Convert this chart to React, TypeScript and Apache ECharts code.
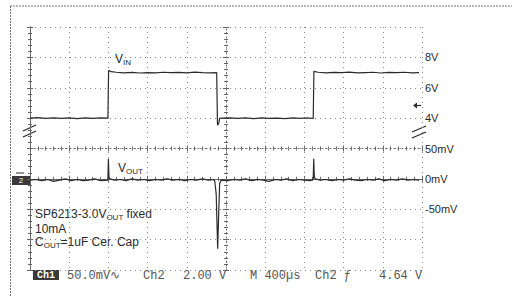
import React, { useEffect, useRef } from "react";
import * as echarts from "echarts";

// time in µs, VIN in volts
const vinData: [number, number][] = [
  [0, 4.0], [80, 4.03], [160, 3.98], [240, 4.02], [320, 3.99], [400, 4.01], [480, 3.97], [560, 4.02],
  [640, 3.99], [720, 4.01], [795, 4.0],
  [802, 7.14], [830, 7.06], [880, 7.02], [960, 6.98], [1040, 7.01], [1120, 6.97], [1200, 7.0], [1280, 6.98],
  [1360, 7.02], [1440, 6.99], [1520, 7.01], [1600, 6.98], [1680, 7.03], [1760, 7.0], [1840, 6.98], [1905, 7.0],
  [1913, 3.55], [1925, 3.62], [1935, 3.98], [1960, 4.0], [2040, 4.02], [2120, 3.98], [2200, 4.01], [2280, 3.97],
  [2360, 4.02], [2440, 3.99], [2520, 4.0], [2600, 3.97], [2680, 4.02], [2760, 3.99], [2840, 4.01], [2890, 3.98],
  [2897, 7.08], [2940, 7.02], [3020, 6.98], [3100, 7.01], [3180, 6.99], [3260, 7.03], [3340, 6.98], [3420, 7.0],
  [3500, 7.02], [3580, 6.97], [3660, 7.01], [3740, 6.99], [3820, 7.02], [3900, 6.98], [3970, 7.0],
];

// time in µs, VOUT in mV
const voutData: [number, number][] = [
  [0, -2], [60, -1], [120, -3], [180, -1], [240, -4], [300, -2], [360, 0], [420, -3], [480, -1], [540, -3],
  [600, -2], [660, 0], [720, -3], [795, -2],
  [800, 33], [806, 3], [815, 0], [860, -2], [920, -1], [980, -3], [1040, 0], [1100, -2], [1160, -1], [1220, -3],
  [1280, -1], [1340, -2], [1400, 0], [1460, -2], [1520, -1], [1580, -3], [1640, -1], [1700, -2], [1760, 0],
  [1820, -2], [1870, -1],
  [1885, -3], [1900, -25], [1915, -115], [1925, -60], [1935, -8], [1950, -2], [2020, -3], [2080, -1], [2140, -2],
  [2200, 0], [2260, -3], [2320, -1], [2380, -2], [2440, -4], [2500, -1], [2560, -2], [2620, 0], [2680, -3],
  [2740, -1], [2800, -2], [2860, -3], [2890, -1],
  [2895, 33], [2901, 4], [2910, 0], [2960, -2], [3020, -1], [3080, -3], [3140, -1], [3200, -2], [3260, 0],
  [3320, -2], [3380, -3], [3440, -1], [3500, -2], [3560, 0], [3620, -3], [3680, -1], [3740, -2], [3800, 0],
  [3860, -2], [3920, -1], [3970, -2],
];

const vinTickLabels = [4, 6, 8];
const voutTickLabels = [-50, 0, 50];
const statusTexts = ["50.0mV∿", "Ch2", "2.00 V", "M 400µs", "Ch2 ƒ", "4.64 V"];
const noteLines = ["SP6213-3.0V", "OUT", " fixed", "10mA", "C", "OUT", "=1uF Cer. Cap"];

const SANS = "'Liberation Sans', Arial, sans-serif";
const MONO = "'Liberation Mono', 'DejaVu Sans Mono', monospace";
const INK = "#2a2a2a";
const FRAME = "#666";

export default function App() {
  const ref = useRef<HTMLDivElement>(null);
  useEffect(() => {
    const chart = echarts.init(ref.current!, null, { renderer: "svg" });
    const gridDot = { show: true, lineStyle: { color: "#8a8a8a", width: 1, type: [1, 4] as any } };
    const border = { show: true, lineStyle: { color: FRAME, width: 1 } };
    const tickIn = { show: true, inside: true, length: 3, lineStyle: { color: FRAME } };
    const tickOut = { show: true, inside: false, length: 3, lineStyle: { color: FRAME } };
    const minor = { show: true, splitNumber: 5, length: 2, lineStyle: { color: FRAME } };
    const noLabel = { show: false };
    const xBase = { type: "value", min: 0, max: 4000, interval: 400, axisLabel: noLabel, splitLine: { show: false } };
    const yBase = { type: "value", min: -6, max: 10, interval: 2, axisLabel: noLabel, splitLine: { show: false } };

    const sub = (size: number) => ({ fontSize: size, fontFamily: SANS, fill: INK, lineHeight: 10, padding: [6, 0, 0, 0] });
    const main = (size: number) => ({ fontSize: size, fontFamily: SANS, fill: INK, lineHeight: 14 });
    const richText = (x: number, y: number, text: string) => ({
      type: "text", x, y,
      style: { text, rich: { a: main(12), b: sub(8) }, verticalAlign: "middle", align: "left" },
    });

    const statusX = [67, 143, 183, 250, 315, 379];

    chart.setOption({
      animation: false,
      grid: { left: 30, top: 27, width: 392, height: 243 },
      xAxis: [
        { ...xBase, position: "bottom", axisLine: border, axisTick: tickIn, minorTick: minor, splitLine: gridDot },
        { ...xBase, position: "top", axisLine: border, axisTick: tickIn, minorTick: minor },
        { ...xBase, position: "bottom", offset: -121.5, axisLine: { show: true, lineStyle: { color: FRAME, type: [1, 3] } }, axisTick: tickIn, minorTick: minor },
        { ...xBase, position: "bottom", offset: -121.5, axisLine: { show: false }, axisTick: tickOut, minorTick: minor },
      ],
      yAxis: [
        {
          ...yBase, position: "right", axisLine: border, axisTick: tickIn, minorTick: minor, splitLine: gridDot,
          axisLabel: {
            show: true, margin: 3, color: INK, fontSize: 11, fontFamily: SANS,
            formatter: (v: number) => (vinTickLabels.includes(v) ? `${v}V` : ""),
          },
        },
        {
          type: "value", position: "right", min: -150, max: 250, interval: 50,
          axisLine: { show: false }, axisTick: { show: false }, splitLine: { show: false },
          axisLabel: {
            show: true, margin: 3, color: INK, fontSize: 11, fontFamily: SANS,
            formatter: (v: number) => (voutTickLabels.includes(v) ? `${v}mV` : ""),
          },
        },
        { ...yBase, position: "left", axisLine: border, axisTick: tickIn, minorTick: minor },
        { ...yBase, position: "left", offset: -196, axisLine: { show: true, lineStyle: { color: FRAME, type: [1, 3] } }, axisTick: tickIn, minorTick: minor },
        { ...yBase, position: "left", offset: -196, axisLine: { show: false }, axisTick: tickOut, minorTick: minor },
      ],
      series: [
        {
          type: "line", xAxisIndex: 0, yAxisIndex: 0, data: vinData, symbol: "none", silent: true,
          lineStyle: { color: INK, width: 1.2 },
        },
        {
          type: "line", xAxisIndex: 0, yAxisIndex: 1, data: voutData, symbol: "none", silent: true,
          lineStyle: { color: INK, width: 1.2 },
        },
      ],
      graphic: [
        // outer screenshot frame
        { type: "line", shape: { x1: 10, y1: 6, x2: 512, y2: 6 }, style: { stroke: "#777", lineWidth: 1, lineDash: [2, 1] } },
        { type: "line", shape: { x1: 10.5, y1: 6, x2: 10.5, y2: 297 }, style: { stroke: "#777", lineWidth: 1, lineDash: [2, 1] } },
        // break marks
        { type: "line", shape: { x1: 23, y1: 131, x2: 36, y2: 125 }, style: { stroke: INK, lineWidth: 1.2 } },
        { type: "line", shape: { x1: 23, y1: 137, x2: 36, y2: 131 }, style: { stroke: INK, lineWidth: 1.2 } },
        { type: "line", shape: { x1: 412, y1: 132, x2: 426, y2: 126 }, style: { stroke: INK, lineWidth: 1.2 } },
        { type: "line", shape: { x1: 412, y1: 138, x2: 426, y2: 132 }, style: { stroke: INK, lineWidth: 1.2 } },
        // trigger arrow
        { type: "line", shape: { x1: 415, y1: 105.5, x2: 421, y2: 105.5 }, style: { stroke: INK, lineWidth: 1.2 } },
        { type: "polygon", shape: { points: [[413, 105.5], [417, 102.5], [417, 108.5]] }, style: { fill: INK } },
        // channel 2 ground marker
        { type: "rect", shape: { x: 12, y: 176, width: 18, height: 9 }, style: { fill: "#3a3a3a" } },
        { type: "text", x: 21, y: 180.5, style: { text: "2", fill: "#fff", fontSize: 8, fontFamily: SANS, align: "center", verticalAlign: "middle" } },
        { type: "line", shape: { x1: 16, y1: 173, x2: 24, y2: 173 }, style: { stroke: INK, lineWidth: 1 } },
        // trace labels
        richText(115, 59, "{a|V}{b|IN}"),
        richText(118, 168, "{a|V}{b|OUT}"),
        // notes
        richText(35, 214, `{a|${noteLines[0]}}{b|${noteLines[1]}}{a|${noteLines[2]}}`),
        richText(35, 229, `{a|${noteLines[3]}}`),
        richText(35, 242, `{a|${noteLines[4]}}{b|${noteLines[5]}}{a|${noteLines[6]}}`),
        // status bar
        { type: "rect", shape: { x: 33, y: 270, width: 26, height: 10 }, style: { fill: "#3a3a3a" } },
        { type: "text", x: 46, y: 275.5, style: { text: "Ch1", fill: "#fff", fontSize: 10, fontWeight: "bold", fontFamily: MONO, align: "center", verticalAlign: "middle" } },
        ...statusTexts.map((t, i) => ({
          type: "text", x: statusX[i], y: 275.5,
          style: { text: t, fill: "#555", fontSize: 12, fontFamily: MONO, align: "left", verticalAlign: "middle" },
        })),
      ],
    });
    return () => chart.dispose();
  }, []);
  return <div ref={ref} style={{ position: "absolute", left: 0, top: 0, width: 512, height: 297, background: "#fff" }} />;
}
